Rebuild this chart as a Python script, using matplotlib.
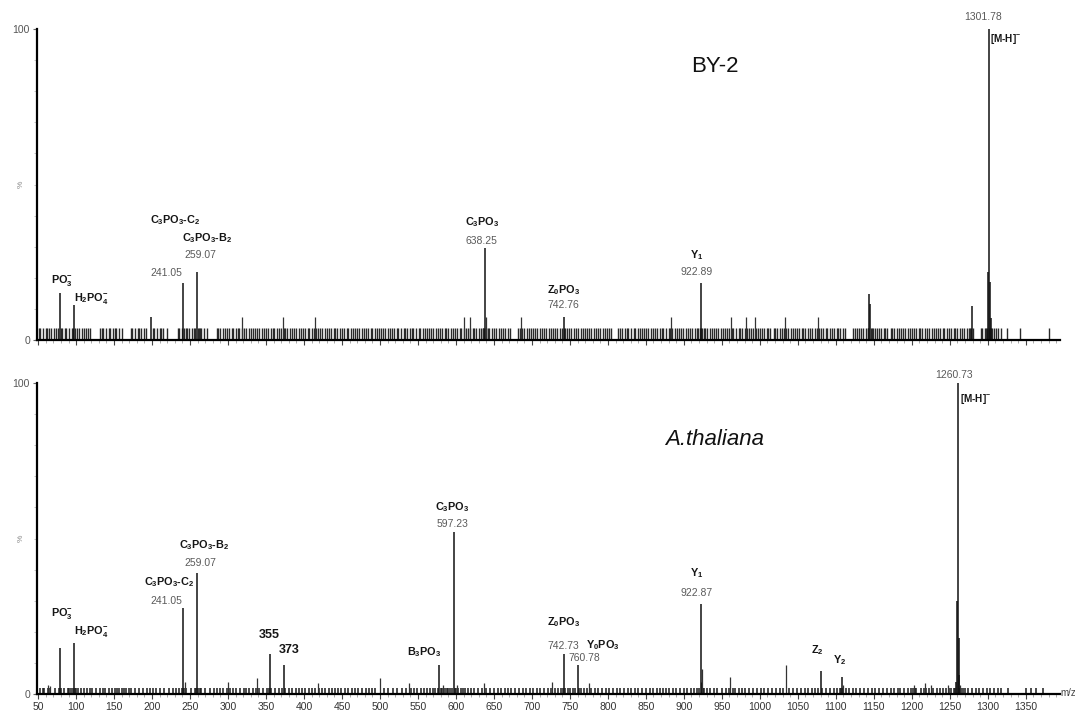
import numpy as np
import matplotlib.pyplot as plt
from matplotlib.ticker import MultipleLocator

plt.rcParams['font.family'] = ['Liberation Sans', 'DejaVu Sans']
plt.rcParams['mathtext.fontset'] = 'custom'
plt.rcParams['mathtext.rm'] = 'Liberation Sans'
plt.rcParams['mathtext.bf'] = 'Liberation Sans:bold'
plt.rcParams['mathtext.it'] = 'Liberation Sans:italic'

# ---------------- BY-2 spectrum ----------------
by2_peak_mz = [79.0, 97.0, 199.0, 241.05, 259.07, 638.25, 742.76, 922.89,
               1144.0, 1145.2, 1279.0, 1300.8, 1301.78, 1302.8, 1303.8]
by2_peak_int = [15.0, 11.2, 7.4, 18.4, 22.0, 29.5, 7.4, 18.4,
                14.8, 11.6, 11.0, 22.0, 100.0, 18.6, 7.0]
by2_minor_mz = [318, 372, 415, 610, 618, 639.2, 685, 883, 962, 982, 993, 1033, 1076]
by2_minor_int = 7.4
by2_noise_int = 4.0
by2_noise_mz = [
    51, 53, 56, 60, 62, 64, 67, 71, 73, 76, 80, 82, 85, 87, 90, 94, 96, 99, 101, 104, 108, 110, 113, 115, 118,
    131, 134, 136, 139, 143, 145, 148, 151, 153, 157, 160,
    172, 174, 177, 181, 183, 186, 190, 192,
    201, 203, 206, 210, 212, 215, 219,
    234, 236, 239, 242, 244, 246, 249, 253, 255, 257, 260, 262, 263, 265, 268, 272,
    285, 287, 290, 293, 296, 298, 301, 305, 307, 310, 313, 315, 319, 321, 324, 327, 330, 333, 336, 338,
    341, 345, 347, 350, 352, 356, 359, 361, 364, 367, 370, 373, 375, 378, 382, 384, 387, 390, 393, 396,
    398, 401, 405, 407, 410, 413, 416, 418, 421, 424, 428, 430, 433, 436, 439, 441, 444, 448, 450, 453,
    456, 458, 462, 464, 467, 470, 473, 476, 479, 481, 484, 488, 490, 493, 496, 499, 501, 504, 507, 511,
    513, 516, 519, 522, 524, 527, 531, 533, 536, 539, 542, 544, 547, 551, 553, 556, 559, 562, 564, 567,
    570, 574, 576, 579, 582, 585, 587, 590, 594, 596, 599, 602, 605, 607, 610, 613, 616, 619, 622, 624,
    627, 630, 633, 635, 636, 637, 639, 640, 642, 644, 647, 650, 653, 656, 659, 662, 665, 668, 671,
    681, 684, 687, 690, 693, 696, 699, 702, 704, 707, 711, 713, 716, 719, 722, 725, 728, 730, 733, 737,
    739, 742, 744, 746, 749, 752, 755, 758, 761, 764, 767, 770, 772, 775, 778, 782, 784, 787, 790, 793,
    796, 799, 801, 804,
    813, 816, 819, 822, 825, 827, 830, 834, 836, 839, 842, 845, 848, 850, 853, 857, 859, 862, 865, 868,
    871, 873, 876, 880, 882, 885, 888, 891, 894, 896, 899, 903, 905, 908, 911, 914, 917, 919, 921, 923,
    924, 926, 928, 931, 934, 937, 940, 942, 945, 949, 951, 954, 957, 960, 963, 965, 968, 972, 974, 977,
    980, 983, 986, 988, 991, 995, 997, 1000, 1003, 1006, 1009, 1011, 1014, 1018, 1020, 1023, 1026, 1029,
    1032, 1034, 1037, 1041, 1043, 1046, 1049, 1052, 1055, 1057, 1060, 1064, 1066, 1069, 1072, 1075, 1078,
    1080, 1083, 1087, 1089, 1092, 1095, 1098, 1101, 1103, 1106, 1110, 1112,
    1122, 1125, 1128, 1131, 1133, 1136, 1140, 1142, 1143, 1146, 1147, 1149, 1151, 1154, 1157, 1160, 1163,
    1165, 1168, 1172, 1174, 1177, 1180, 1183, 1186, 1188, 1191, 1195, 1197, 1200, 1203, 1206, 1209, 1211,
    1214, 1218, 1220, 1223, 1226, 1229, 1232, 1234, 1237, 1241, 1243, 1246, 1249, 1252, 1255, 1257, 1260,
    1264, 1266, 1269, 1272, 1275, 1277, 1278, 1280,
    1291, 1293, 1296, 1298, 1299, 1301, 1303, 1304, 1306, 1308, 1311, 1314, 1317, 1325, 1343, 1381,
]

# ---------------- A. thaliana spectrum ----------------
ath_peak_mz = [79.0, 97.0, 241.05, 259.07, 355.0, 373.0, 578.0, 597.23, 742.73, 760.78,
               922.87, 1080.0, 1108.0, 1258.7, 1259.7, 1260.73, 1261.7, 1262.7]
ath_peak_int = [14.8, 16.4, 27.6, 39.0, 13.0, 9.3, 9.3, 52.0, 13.0, 9.3,
                29.0, 7.4, 5.6, 4.0, 30.0, 100.0, 18.0, 6.0]
ath_small_mz = [63, 66, 243, 300, 338, 419, 500, 538, 583, 601, 637, 727, 775,
                921.9, 923.9, 961, 1035, 1110, 1203, 1217, 1225, 1248, 1264]
ath_small_int = [3.0, 2.5, 4.0, 4.0, 5.0, 3.5, 5.2, 3.5, 3.0, 3.0, 3.5, 3.8, 3.5,
                 4.0, 8.0, 5.5, 9.3, 3.0, 3.0, 3.5, 3.0, 3.0, 3.0]
ath_noise_int = 2.0
ath_noise_mz = [
    52, 56, 58, 63, 66, 72, 78, 80, 84, 89, 91, 93, 96, 98, 100, 103, 107, 110, 114, 118, 121, 126, 131,
    135, 138, 143, 147, 151, 154, 157, 160, 163, 166, 169, 172, 178, 183, 188, 193, 197, 201, 205, 211,
    216, 222, 227, 232, 236, 239, 242, 245, 251, 256, 258, 261, 263, 265, 270, 276, 281, 286, 290, 294,
    298, 302, 307, 311, 316, 321, 324, 327, 333, 337, 341, 346, 351, 354, 357, 362, 367, 371, 375, 380,
    384, 389, 393, 397, 401, 406, 411, 415, 420, 424, 428, 433, 437, 441, 445, 449, 454, 458, 463, 467,
    471, 476, 481, 486, 490, 494, 505, 511, 517, 523, 529, 534, 541, 545, 549, 554, 558, 562, 566, 570,
    573, 576, 580, 582, 585, 588, 590, 592, 595, 599, 600, 603, 606, 609, 612, 616, 620, 624, 629, 634,
    640, 645, 650, 655, 659, 664, 669, 673, 678, 683, 688, 692, 697, 702, 707, 711, 716, 721, 725, 730,
    734, 738, 741, 744, 747, 750, 754, 757, 762, 765, 769, 773, 778, 783, 787, 792, 797, 802, 807, 812,
    816, 821, 826, 831, 836, 840, 845, 850, 855, 859, 864, 868, 873, 877, 881, 886, 890, 895, 900, 904,
    909, 913, 917, 920, 925, 927, 930, 934, 939, 944, 950, 955, 959, 964, 967, 972, 976, 981, 986, 991,
    996, 1001, 1006, 1011, 1016, 1021, 1026, 1030, 1039, 1044, 1049, 1054, 1059, 1064, 1068, 1073, 1077,
    1082, 1087, 1092, 1097, 1102, 1105, 1107, 1110, 1113, 1117, 1122, 1127, 1132, 1137, 1142, 1147, 1152,
    1157, 1162, 1167, 1172, 1177, 1182, 1184, 1190, 1195, 1199, 1201, 1204, 1206, 1212, 1216, 1219, 1222,
    1228, 1233, 1237, 1241, 1245, 1249, 1252, 1255, 1257, 1263, 1265, 1267, 1270, 1274, 1279, 1284, 1289,
    1294, 1299, 1303, 1308, 1313, 1318, 1326, 1350, 1357, 1364, 1373,
]

xticks = list(range(50, 1351, 50))

# ---------------- figure ----------------
fig = plt.figure(figsize=(10.75, 7.13), dpi=100)
ax1 = fig.add_axes([0.0344, 0.5231, 0.9516, 0.4362])
ax2 = fig.add_axes([0.0344, 0.0266, 0.9516, 0.4362])

BOLD = '#151515'
GREY = '#5a5a5a'


def style_axis(ax, show_labels):
    ax.set_xlim(48.5, 1395)
    ax.set_ylim(0, 100)
    for s in ['top', 'right']:
        ax.spines[s].set_visible(False)
    ax.spines['left'].set_linewidth(1.6)
    ax.spines['bottom'].set_linewidth(1.6)
    ax.set_yticks([0, 100])
    ax.yaxis.set_minor_locator(MultipleLocator(10))
    ax.set_xticks(xticks)
    ax.xaxis.set_minor_locator(MultipleLocator(10))
    ax.tick_params(axis='y', which='major', length=3, width=0.8, color='#666',
                   labelsize=7.5, labelcolor='#555', pad=2)
    ax.tick_params(axis='y', which='minor', length=2, width=0.6, color='#bbb')
    ax.tick_params(axis='x', which='major', length=3.5, width=0.8, color='#444',
                   labelsize=7.5, labelcolor='#333', pad=2, labelbottom=show_labels)
    ax.tick_params(axis='x', which='minor', length=2, width=0.5, color='#888')
    ax.text(-0.012, 0.5, '%', transform=ax.transAxes, rotation=90, fontsize=6,
            color='#888', ha='right', va='center')


style_axis(ax1, False)
style_axis(ax2, True)

# top spectrum
ax1.vlines(by2_noise_mz, 0, by2_noise_int, color='#2a2a2a', lw=1.0)
ax1.vlines(by2_minor_mz, 0, by2_minor_int, color='#333', lw=0.9)
ax1.vlines(by2_peak_mz, 0, by2_peak_int, color='#111', lw=1.1)

# bottom spectrum
ax2.vlines(ath_noise_mz, 0, ath_noise_int, color='#1a1a1a', lw=1.1)
ax2.vlines(ath_small_mz, 0, ath_small_int, color='#333', lw=0.9)
ax2.vlines(ath_peak_mz, 0, ath_peak_int, color='#111', lw=1.1)


def lab(ax, x, y, s, kind='b', size=7.8, ha='center'):
    if kind == 'b':
        ax.text(x, y, s, fontsize=size, fontweight='bold', color=BOLD, ha=ha, va='center')
    else:
        ax.text(x, y, s, fontsize=7.5, color=GREY, ha=ha, va='center')


# annotations, top panel
lab(ax1, 82, 19.3, r'PO$_\mathbf{3}^\mathbf{-}$')
lab(ax1, 120, 13.5, r'H$_\mathbf{2}$PO$_\mathbf{4}^\mathbf{-}$')
lab(ax1, 230, 38.6, r'C$_\mathbf{3}$PO$_\mathbf{3}$-C$_\mathbf{2}$')
lab(ax1, 272, 32.8, r'C$_\mathbf{3}$PO$_\mathbf{3}$-B$_\mathbf{2}$')
lab(ax1, 264, 27.3, '259.07', 'v')
lab(ax1, 240, 21.5, '241.05', 'v', ha='right')
lab(ax1, 634, 38.0, r'C$_\mathbf{3}$PO$_\mathbf{3}$')
lab(ax1, 634, 32.0, '638.25', 'v')
lab(ax1, 741, 16.0, r'Z$_\mathbf{0}$PO$_\mathbf{3}$')
lab(ax1, 741, 11.3, '742.76', 'v')
lab(ax1, 917, 27.3, r'Y$_\mathbf{1}$')
lab(ax1, 917, 21.9, '922.89', 'v')
lab(ax1, 1294, 103.9, '1301.78', 'v')
lab(ax1, 1303.5, 96.8, r'[M-H]$^\mathbf{-}$', size=7.2, ha='left')
ax1.text(941, 88, 'BY-2', fontsize=16, color='#111', ha='center', va='center')

# annotations, bottom panel
lab(ax2, 82, 26.0, r'PO$_\mathbf{3}^\mathbf{-}$')
lab(ax2, 120, 20.0, r'H$_\mathbf{2}$PO$_\mathbf{4}^\mathbf{-}$')
lab(ax2, 222, 36.0, r'C$_\mathbf{3}$PO$_\mathbf{3}$-C$_\mathbf{2}$')
lab(ax2, 240, 30.0, '241.05', 'v', ha='right')
lab(ax2, 269, 48.0, r'C$_\mathbf{3}$PO$_\mathbf{3}$-B$_\mathbf{2}$')
lab(ax2, 264, 42.0, '259.07', 'v')
lab(ax2, 354, 19.0, '355', size=9)
lab(ax2, 381, 14.0, '373', size=9)
lab(ax2, 558, 13.5, r'B$_\mathbf{3}$PO$_\mathbf{3}$')
lab(ax2, 595, 60.0, r'C$_\mathbf{3}$PO$_\mathbf{3}$')
lab(ax2, 595, 54.7, '597.23', 'v')
lab(ax2, 741, 23.0, r'Z$_\mathbf{0}$PO$_\mathbf{3}$')
lab(ax2, 741, 15.4, '742.73', 'v')
lab(ax2, 793, 15.6, r'Y$_\mathbf{0}$PO$_\mathbf{3}$')
lab(ax2, 769, 11.6, '760.78', 'v')
lab(ax2, 917, 39.0, r'Y$_\mathbf{1}$')
lab(ax2, 917, 32.5, '922.87', 'v')
lab(ax2, 1076, 14.0, r'Z$_\mathbf{2}$')
lab(ax2, 1105, 11.0, r'Y$_\mathbf{2}$')
lab(ax2, 1255, 102.6, '1260.73', 'v')
lab(ax2, 1263, 95.0, r'[M-H]$^\mathbf{-}$', size=7.2, ha='left')
ax2.text(941, 81.7, 'A.thaliana', fontsize=16, style='italic', color='#111',
         ha='center', va='center')

fig.text(0.9865, 0.0285, 'm/z', fontsize=7, color='#444', ha='left', va='center')

fig.savefig('out.png', dpi=100, facecolor='white')
